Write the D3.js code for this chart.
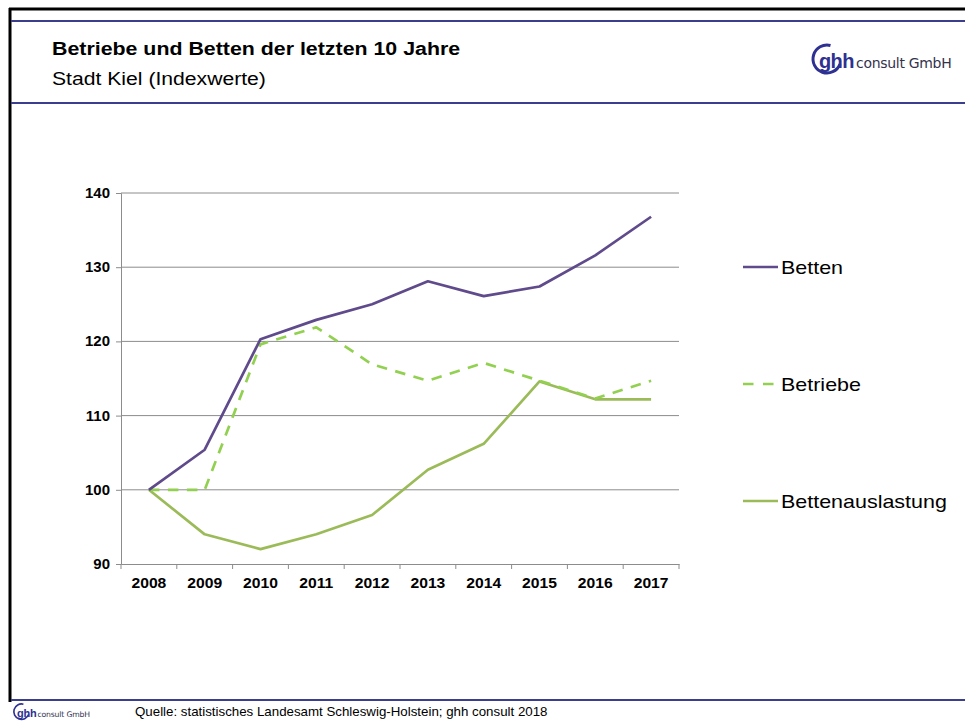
<!DOCTYPE html>
<html><head><meta charset="utf-8">
<script src="https://cdn.jsdelivr.net/npm/d3@7"></script>
<style>body{margin:0;background:#fff}svg{display:block}text{font-family:"Liberation Sans",Arial,sans-serif}</style>
</head><body>
<svg id="c" width="965" height="724"></svg>
<script>
const years = ["2008","2009","2010","2011","2012","2013","2014","2015","2016","2017"];
const betten = [100,105.4,120.3,122.9,125.0,128.1,126.1,127.4,131.6,136.8];
const betriebe = [100,100,119.6,121.9,116.9,114.7,117.1,114.7,112.3,114.7];
const auslastung = [100,94.0,92.0,94.0,96.6,102.7,106.2,114.6,112.2,112.2];
const yTicks = [90,100,110,120,130,140];
const seriesNames = ["Betten","Betriebe","Bettenauslastung"];

const svg = d3.select("#c");
const navy = "#2e3192";
// frame
svg.append("line").attr("x1",9).attr("x2",965).attr("y1",9).attr("y2",9).attr("stroke","#000").attr("stroke-width",3);
svg.append("line").attr("x1",10).attr("x2",10).attr("y1",8).attr("y2",702).attr("stroke","#000").attr("stroke-width",3);
[21,103,700].forEach(y=>svg.append("line").attr("x1",11).attr("x2",965).attr("y1",y).attr("y2",y).attr("stroke","#3b3e8f").attr("stroke-width",2));

function stext(x,y,size,sx,str,bold){
  return svg.append("text").attr("transform",`translate(${x},${y}) scale(${sx},1)`)
    .attr("font-size",size).attr("font-weight",bold?"bold":null).attr("fill","#000").text(str);
}
stext(52,55,18.5,1.155,"Betriebe und Betten der letzten 10 Jahre",true);
stext(52,85,18.5,1.144,"Stadt Kiel (Indexwerte)",false);

function logo(g){
  g.append("path").attr("d", d3.arc()({innerRadius:12.5,outerRadius:15.5,startAngle:0.62*Math.PI,endAngle:2.08*Math.PI}))
   .attr("transform","translate(18,13)").attr("fill",navy);
  g.append("text").attr("x",10).attr("y",22).attr("font-size",20).attr("font-weight","bold").attr("fill",navy)
   .style("font-family","Arial, sans-serif").attr("letter-spacing",-0.6).text("ghh");
  g.append("text").attr("x",47).attr("y",22).attr("font-size",14).attr("fill","#33334d")
   .style("font-family","'DejaVu Sans', sans-serif").attr("letter-spacing",-0.3).text("consult GmbH");
}
logo(svg.append("g").attr("transform","translate(809,46)"));
logo(svg.append("g").attr("transform","translate(11.6,704.5) scale(0.55)"));

stext(135,716,12,1.11,"Quelle: statistisches Landesamt Schleswig-Holstein; ghh consult 2018",false);

// chart
const m = {l:121, r:679, t:193, b:564};
const x = d3.scaleBand().domain(years).range([m.l,m.r]);
const y = d3.scaleLinear().domain([90,140]).range([m.b,m.t]);
const grid = svg.append("g");
yTicks.slice(1).forEach(v=>grid.append("line").attr("x1",m.l).attr("x2",m.r).attr("y1",y(v)).attr("y2",y(v)).attr("stroke","#8c8c8c").attr("stroke-width",1));

const yAxis = svg.append("g").attr("transform",`translate(${m.l},0)`)
  .call(d3.axisLeft(y).tickValues(yTicks).tickSize(5).tickPadding(6));
const xAxis = svg.append("g").attr("transform",`translate(0,${m.b})`)
  .call(d3.axisBottom(x).tickSize(0).tickPadding(14));
[yAxis,xAxis].forEach(a=>{
  a.select(".domain").attr("stroke","#8c8c8c");
  a.selectAll(".tick line").attr("stroke","#8c8c8c");
  a.selectAll("text").attr("font-size",14).attr("font-weight","bold").attr("fill","#000").style("font-family","'Liberation Sans',Arial,sans-serif");
});
yAxis.selectAll(".tick text").each(function(){
  const t=d3.select(this); const xx=+t.attr("x");
  t.attr("x",0).attr("transform",`translate(${xx},0) scale(1.07,1)`);
});
xAxis.selectAll(".tick text").attr("transform","scale(1.12,1)");
// x boundary ticks
const bounds = years.map(d=>x(d)).concat([m.r]);
bounds.forEach(b=>svg.append("line").attr("x1",b).attr("x2",b).attr("y1",m.b).attr("y2",m.b+5).attr("stroke","#8c8c8c"));

const line = d3.line().x((d,i)=>x(years[i])+x.bandwidth()/2).y(d=>y(d));
const styles = [
  {data:betten,color:"#5f4a8b",dash:null},
  {data:betriebe,color:"#92d050",dash:"10.5,8.5"},
  {data:auslastung,color:"#9bbb59",dash:null}
];
[2,1,0].forEach(i=>{
  const s = styles[i];
  svg.append("path").attr("d",line(s.data)).attr("fill","none").attr("stroke",s.color).attr("stroke-width",2.7)
    .attr("stroke-dasharray",s.dash).attr("stroke-linejoin","round");
});

// legend
const legY = [267,384,501];
seriesNames.forEach((n,i)=>{
  const s = styles[i];
  svg.append("line").attr("x1",743).attr("x2",778).attr("y1",legY[i]).attr("y2",legY[i]).attr("stroke",s.color).attr("stroke-width",2.7)
    .attr("stroke-dasharray",s.dash?"10.5,9.5":null);
  stext(781,legY[i]+7,19,1.13,n,false);
});
</script>
</body></html>
